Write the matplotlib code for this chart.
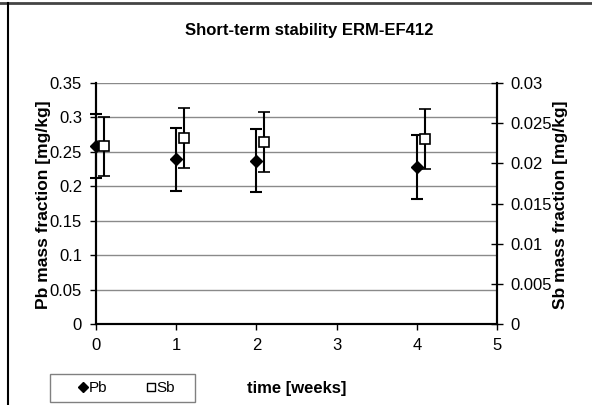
import matplotlib
matplotlib.use("Agg")
import matplotlib.pyplot as plt
from matplotlib.patches import Rectangle

plt.rcParams['font.family'] = ['Liberation Sans', 'DejaVu Sans']

# Short-term stability data (weeks at 60 °C)
weeks = [0, 1, 2, 4]
sb_offset = 0.1
pb_values = [0.258, 0.239, 0.237, 0.228]
pb_err = [0.046, 0.046, 0.046, 0.046]
sb_values = [0.0221, 0.0231, 0.0226, 0.0230]
sb_err = [0.0037, 0.0037, 0.0037, 0.0037]

title = "Short-term stability ERM-EF412"
xlabel = "time [weeks]"
ylabel_left = "Pb mass fraction [mg/kg]"
ylabel_right = "Sb mass fraction [mg/kg]"

W, H = 592, 405
fig = plt.figure(figsize=(W / 100, H / 100), dpi=100)
ax = fig.add_axes([96 / W, 1 - 324.3 / H, (497 - 96) / W, (324.3 - 82.7) / H])
ax2 = ax.twinx()

# Frame lines around the chart area
fig.add_artist(plt.Line2D([0, 1], [1 - 2.5 / H, 1 - 2.5 / H], color='#444444', lw=2,
                          transform=fig.transFigure))
fig.add_artist(plt.Line2D([8 / W, 8 / W], [0, 1 - 2.5 / H], color='black', lw=1.5,
                          transform=fig.transFigure))

# Left axis: Pb
ax.set_xlim(0, 5)
ax.set_ylim(0, 0.35)
ax.grid(axis='y', color='#8a8a8a', lw=1)
ax.set_axisbelow(True)
ax.set_yticks([0, 0.05, 0.1, 0.15, 0.2, 0.25, 0.3, 0.35])
ax.set_yticklabels(['0', '0.05', '0.1', '0.15', '0.2', '0.25', '0.3', '0.35'])
ax.set_xticks([0, 1, 2, 3, 4, 5])
ax.set_xticklabels(['0', '1', '2', '3', '4', '5'])

pb = ax.errorbar(weeks, pb_values, yerr=pb_err, fmt='D', color='black', ms=6.5,
                 mfc='black', mec='black', ecolor='black', elinewidth=1.5,
                 capsize=4, capthick=1.5, clip_on=False, zorder=5, label='Pb')

# Right axis: Sb
ax2.set_ylim(0, 0.03)
ax2.set_yticks([0, 0.005, 0.01, 0.015, 0.02, 0.025, 0.03])
ax2.set_yticklabels(['0', '0.005', '0.01', '0.015', '0.02', '0.025', '0.03'])
sb_x = [w + sb_offset for w in weeks]
sb = ax2.errorbar(sb_x, sb_values, yerr=sb_err, fmt='s', color='black', ms=7,
                  mfc='white', mec='black', mew=1.2, ecolor='black', elinewidth=1.5,
                  capsize=4, capthick=1.5, clip_on=False, zorder=5, label='Sb')

for a in (ax, ax2):
    a.spines['top'].set_visible(False)
    for s in ('left', 'bottom', 'right'):
        a.spines[s].set_linewidth(1.5)
        a.spines[s].set_color('black')

ax.tick_params(axis='y', direction='out', length=4, width=1, pad=6, labelsize=12)
ax.tick_params(axis='x', direction='out', length=4, width=1, pad=6, labelsize=12)
ax2.tick_params(axis='y', direction='inout', length=9, width=1, pad=5, labelsize=12)

fig.text(309 / W, 1 - 31 / H, title, ha='center', va='center', fontsize=12,
         fontweight='bold')
fig.text(297 / W, 1 - 388 / H, xlabel, ha='center', va='center', fontsize=12,
         fontweight='bold')
fig.text(44 / W, 1 - 205 / H, ylabel_left, ha='center', va='center', rotation=90,
         fontsize=12.5, fontweight='bold')
fig.text(560 / W, 1 - 205 / H, ylabel_right, ha='center', va='center', rotation=90,
         fontsize=12.5, fontweight='bold')

# Legend box and entries
fig.add_artist(Rectangle((50 / W, 1 - 402 / H), 145 / W, 28 / H,
                         transform=fig.transFigure, fill=True, facecolor='white',
                         edgecolor='#808080', lw=1))
leg_handles = [
    plt.Line2D([], [], ls='none', marker='D', ms=5, mfc='black', mec='black'),
    plt.Line2D([], [], ls='none', marker='s', ms=6, mfc='white', mec='black', mew=1),
]
leg = fig.legend(leg_handles, ['Pb', 'Sb'], loc='center',
                 bbox_to_anchor=(127 / W, 1 - 388 / H), ncol=2, fontsize=11,
                 frameon=False, handlelength=0.5, handletextpad=0.15,
                 columnspacing=2.6, borderpad=0, borderaxespad=0)

fig.savefig('out.png', dpi=100)
